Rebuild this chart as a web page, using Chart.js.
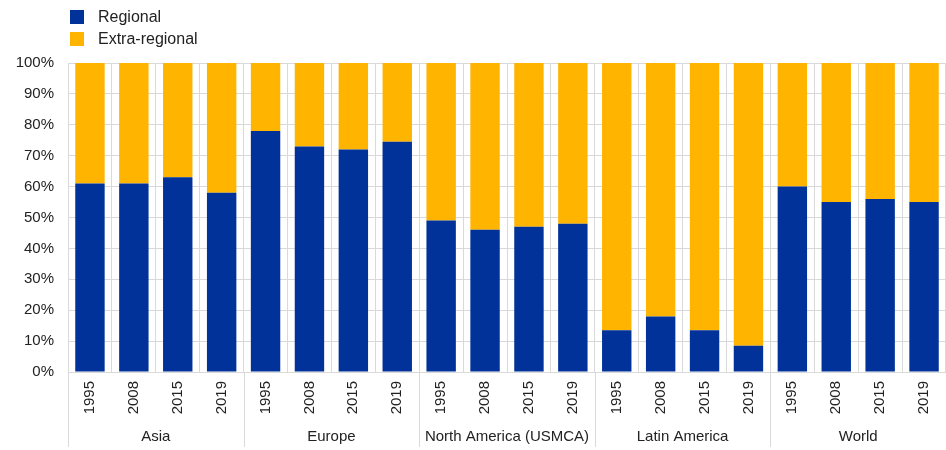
<!DOCTYPE html>
<html>
<head>
<meta charset="utf-8">
<script src="https://cdn.jsdelivr.net/npm/chart.js@4/dist/chart.umd.min.js"></script>
<style>
  body { margin: 0; background: #fff; overflow: hidden; }
  .wrap { position: relative; width: 946px; height: 450px; }
  .legend { position: absolute; left: 70px; top: 6px; font: 16px 'Liberation Sans', Arial, sans-serif; color: #222; }
  .legend__item { display: flex; align-items: center; height: 22px; }
  .legend__box { width: 14px; height: 14px; margin-right: 14px; }
</style>
</head>
<body>
<div class="wrap">
  <canvas id="myChart" width="946" height="450"></canvas>
  <div class="legend"></div>
</div>
<script>
const regions = ['Asia', 'Europe', 'North America (USMCA)', 'Latin America', 'World']
const years = ['1995', '2008', '2015', '2019']

// share of trade in %, 4 years per region
const regional = [
  61, 61, 63, 58,
  78, 73, 72, 74.5,
  49, 46, 47, 48,
  13.5, 18, 13.5, 8.5,
  60, 55, 56, 55
]
const extraRegional = [
  39, 39, 37, 42,
  22, 27, 28, 25.5,
  51, 54, 53, 52,
  86.5, 82, 86.5, 91.5,
  40, 45, 44, 45
]

const tickValues = [0, 10, 20, 30, 40, 50, 60, 70, 80, 90, 100]

const labels = []
regions.forEach(() => years.forEach(y => labels.push(y)))

const font = "'Liberation Sans', Arial, sans-serif"
const textColor = '#222'
const gridColor = '#d9d9d9'

const groupLabels = {
  id: 'groupLabels',
  afterDraw(chart) {
    const { ctx, chartArea, scales: { x } } = chart
    const half = (x.getPixelForValue(1) - x.getPixelForValue(0)) / 2
    ctx.save()
    ctx.strokeStyle = gridColor
    ctx.lineWidth = 1
    ctx.fillStyle = textColor
    ctx.font = '15px ' + font
    ctx.textAlign = 'center'
    ctx.textBaseline = 'middle'

    const line = px => {
      const xx = Math.round(px) + 0.5
      ctx.beginPath()
      ctx.moveTo(xx, chartArea.bottom)
      ctx.lineTo(xx, 447)
      ctx.stroke()
    }

    regions.forEach((region, g) => {
      const first = g * years.length
      const last = first + years.length - 1
      const left = x.getPixelForValue(first) - half
      const right = x.getPixelForValue(last) + half
      line(left)
      ctx.fillText(region, (left + right) / 2, 437)
    })
    ctx.restore()
  }
}

const ctx = document.getElementById('myChart').getContext('2d')

const myChart = new Chart(ctx, {
  type: 'bar',
  data: {
    labels,
    datasets: [
      {
        label: 'Regional',
        data: regional,
        backgroundColor: '#003299',
        barPercentage: 0.67,
        categoryPercentage: 1
      },
      {
        label: 'Extra-regional',
        data: extraRegional,
        backgroundColor: '#FFB400',
        barPercentage: 0.67,
        categoryPercentage: 1
      }
    ]
  },
  options: {
    responsive: false,
    animation: false,
    layout: {
      padding: { top: 63, left: 8, right: -2, bottom: 0 }
    },
    plugins: {
      legend: { display: false },
      tooltip: { enabled: false }
    },
    scales: {
      x: {
        stacked: true,
        afterFit: axis => {
          axis.height = 78
          axis.paddingLeft = 0
          axis.paddingRight = 0
        },
        grid: {
          offset: true,
          color: gridColor,
          drawTicks: false
        },
        border: { color: gridColor },
        ticks: {
          minRotation: 90,
          maxRotation: 90,
          padding: 9,
          color: textColor,
          font: { family: font, size: 15 }
        }
      },
      y: {
        stacked: true,
        min: 0,
        max: 100,
        afterFit: axis => { axis.width = 60 },
        afterBuildTicks: axis => {
          axis.ticks = tickValues.map(v => ({ value: v }))
        },
        grid: {
          color: gridColor,
          drawTicks: false
        },
        border: { color: gridColor },
        ticks: {
          padding: 14,
          color: textColor,
          font: { family: font, size: 15 },
          callback: v => v + '%'
        }
      }
    }
  },
  plugins: [groupLabels]
})

const legendBox = document.querySelector('.legend')
legendBox.innerHTML = myChart.data.datasets.map(ds => `
  <div class="legend__item">
    <span class="legend__box" style="background:${ds.backgroundColor}"></span>
    <span>${ds.label}</span>
  </div>
`).join('')
</script>
</body>
</html>
